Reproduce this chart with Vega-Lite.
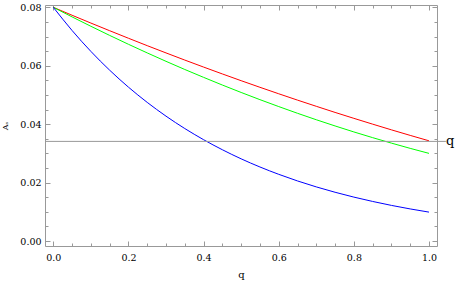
{
  "$schema": "https://vega.github.io/schema/vega-lite/v6.json",
  "width": 392,
  "height": 241,
  "autosize": {"type": "none"},
  "padding": {"left": 45, "top": 5, "right": 20, "bottom": 41},
  "background": "white",
  "config": {
    "font": "DejaVu Serif",
    "view": {"stroke": "#999999", "strokeWidth": 1},
    "axis": {
      "domain": false,
      "grid": false,
      "labelFont": "DejaVu Serif",
      "titleFont": "DejaVu Serif",
      "labelFontSize": 9.5,
      "titleFontSize": 10,
      "titleFontWeight": "normal",
      "labelColor": "#000000",
      "titleColor": "#000000",
      "tickColor": "#999999",
      "labelFlush": false,
      "labelOverlap": false
    }
  },
  "layer": [
    {
      "data": {
        "values": [
          {"q": 0, "v": 0.08, "s": "r"}, {"q": 0.05, "v": 0.07728, "s": "r"}, {"q": 0.1, "v": 0.07461, "s": "r"}, {"q": 0.15, "v": 0.07199, "s": "r"}, {"q": 0.2, "v": 0.06941, "s": "r"}, {"q": 0.25, "v": 0.06687, "s": "r"}, {"q": 0.3, "v": 0.06439, "s": "r"}, {"q": 0.35, "v": 0.06194, "s": "r"}, {"q": 0.4, "v": 0.05954, "s": "r"}, {"q": 0.45, "v": 0.05719, "s": "r"}, {"q": 0.5, "v": 0.05488, "s": "r"}, {"q": 0.55, "v": 0.05262, "s": "r"}, {"q": 0.6, "v": 0.0504, "s": "r"}, {"q": 0.65, "v": 0.04823, "s": "r"}, {"q": 0.7, "v": 0.04611, "s": "r"}, {"q": 0.75, "v": 0.04402, "s": "r"}, {"q": 0.8, "v": 0.04199, "s": "r"}, {"q": 0.85, "v": 0.04, "s": "r"}, {"q": 0.9, "v": 0.03805, "s": "r"}, {"q": 0.95, "v": 0.03615, "s": "r"}, {"q": 1.0, "v": 0.0343, "s": "r"},
          {"q": 0, "v": 0.08, "s": "g"}, {"q": 0.05, "v": 0.07671, "s": "g"}, {"q": 0.1, "v": 0.07351, "s": "g"}, {"q": 0.15, "v": 0.07038, "s": "g"}, {"q": 0.2, "v": 0.06734, "s": "g"}, {"q": 0.25, "v": 0.06439, "s": "g"}, {"q": 0.3, "v": 0.06151, "s": "g"}, {"q": 0.35, "v": 0.05872, "s": "g"}, {"q": 0.4, "v": 0.05602, "s": "g"}, {"q": 0.45, "v": 0.05339, "s": "g"}, {"q": 0.5, "v": 0.05085, "s": "g"}, {"q": 0.55, "v": 0.04839, "s": "g"}, {"q": 0.6, "v": 0.04602, "s": "g"}, {"q": 0.65, "v": 0.04372, "s": "g"}, {"q": 0.7, "v": 0.04151, "s": "g"}, {"q": 0.75, "v": 0.03939, "s": "g"}, {"q": 0.8, "v": 0.03734, "s": "g"}, {"q": 0.85, "v": 0.03538, "s": "g"}, {"q": 0.9, "v": 0.03351, "s": "g"}, {"q": 0.95, "v": 0.03171, "s": "g"}, {"q": 1.0, "v": 0.03, "s": "g"},
          {"q": 0, "v": 0.08, "s": "b"}, {"q": 0.05, "v": 0.07206, "s": "b"}, {"q": 0.1, "v": 0.06491, "s": "b"}, {"q": 0.15, "v": 0.05847, "s": "b"}, {"q": 0.2, "v": 0.05267, "s": "b"}, {"q": 0.25, "v": 0.04745, "s": "b"}, {"q": 0.3, "v": 0.04274, "s": "b"}, {"q": 0.35, "v": 0.0385, "s": "b"}, {"q": 0.4, "v": 0.03468, "s": "b"}, {"q": 0.45, "v": 0.03124, "s": "b"}, {"q": 0.5, "v": 0.02813, "s": "b"}, {"q": 0.55, "v": 0.02534, "s": "b"}, {"q": 0.6, "v": 0.02283, "s": "b"}, {"q": 0.65, "v": 0.02056, "s": "b"}, {"q": 0.7, "v": 0.01852, "s": "b"}, {"q": 0.75, "v": 0.01669, "s": "b"}, {"q": 0.8, "v": 0.01503, "s": "b"}, {"q": 0.85, "v": 0.01354, "s": "b"}, {"q": 0.9, "v": 0.01219, "s": "b"}, {"q": 0.95, "v": 0.01098, "s": "b"}, {"q": 1.0, "v": 0.00989, "s": "b"}
        ]
      },
      "mark": {"type": "line", "strokeWidth": 1, "interpolate": "monotone"},
      "encoding": {
        "x": {
          "field": "q", "type": "quantitative",
          "scale": {"domain": [-0.0221, 1.0213], "nice": false, "zero": false},
          "axis": {
            "orient": "bottom",
            "title": "q",
            "titlePadding": 6,
            "values": [0, 0.05, 0.1, 0.15, 0.2, 0.25, 0.3, 0.35, 0.4, 0.45, 0.5, 0.55, 0.6, 0.65, 0.7, 0.75, 0.8, 0.85, 0.9, 0.95, 1.0],
            "labelExpr": "abs(datum.value*5 - round(datum.value*5)) < 1e-6 ? format(datum.value, '.1f') : ''",
            "tickSize": {"condition": {"test": "abs(datum.value*5 - round(datum.value*5)) < 1e-6", "value": -5}, "value": -3},
            "labelPadding": 11
          }
        },
        "y": {
          "field": "v", "type": "quantitative",
          "scale": {"domain": [-0.00171, 0.08079], "nice": false, "zero": false},
          "axis": {
            "orient": "left",
            "title": "Aₛ",
            "titleFontSize": 8,
            "titlePadding": 10,
            "values": [0, 0.005, 0.01, 0.015, 0.02, 0.025, 0.03, 0.035, 0.04, 0.045, 0.05, 0.055, 0.06, 0.065, 0.07, 0.075, 0.08],
            "labelExpr": "abs(datum.value*50 - round(datum.value*50)) < 1e-6 ? format(datum.value, '.2f') : ''",
            "tickSize": {"condition": {"test": "abs(datum.value*50 - round(datum.value*50)) < 1e-6", "value": -5}, "value": -3},
            "labelPadding": 9
          }
        },
        "color": {
          "field": "s", "type": "nominal",
          "scale": {"domain": ["r", "g", "b"], "range": ["#ff0000", "#00ff00", "#0000ff"]},
          "legend": null
        }
      }
    },
    {
      "data": {"values": [{"line": "q"}]},
      "mark": {"type": "rule", "color": "#999999", "strokeWidth": 1},
      "encoding": {
        "x": {
          "datum": -0.0221, "type": "quantitative",
          "axis": {
            "orient": "top",
            "title": null,
            "labels": false,
            "values": [0, 0.05, 0.1, 0.15, 0.2, 0.25, 0.3, 0.35, 0.4, 0.45, 0.5, 0.55, 0.6, 0.65, 0.7, 0.75, 0.8, 0.85, 0.9, 0.95, 1.0],
            "tickSize": {"condition": {"test": "abs(datum.value*5 - round(datum.value*5)) < 1e-6", "value": -5}, "value": -3}
          }
        },
        "x2": {"datum": 1.045},
        "y": {
          "datum": 0.0341, "type": "quantitative",
          "axis": {
            "orient": "right",
            "title": null,
            "labels": false,
            "values": [0, 0.005, 0.01, 0.015, 0.02, 0.025, 0.03, 0.035, 0.04, 0.045, 0.05, 0.055, 0.06, 0.065, 0.07, 0.075, 0.08],
            "tickSize": {"condition": {"test": "abs(datum.value*50 - round(datum.value*50)) < 1e-6", "value": -5}, "value": -3}
          }
        }
      }
    },
    {
      "data": {"values": [{"label": "q"}]},
      "mark": {"type": "text", "font": "DejaVu Serif", "fontSize": 13, "align": "center", "baseline": "middle", "color": "#000000"},
      "encoding": {
        "text": {"field": "label"},
        "x": {"datum": 1.056, "type": "quantitative", "axis": null},
        "y": {"datum": 0.0341, "type": "quantitative", "axis": null}
      }
    }
  ],
  "resolve": {"axis": {"x": "independent", "y": "independent"}}
}
